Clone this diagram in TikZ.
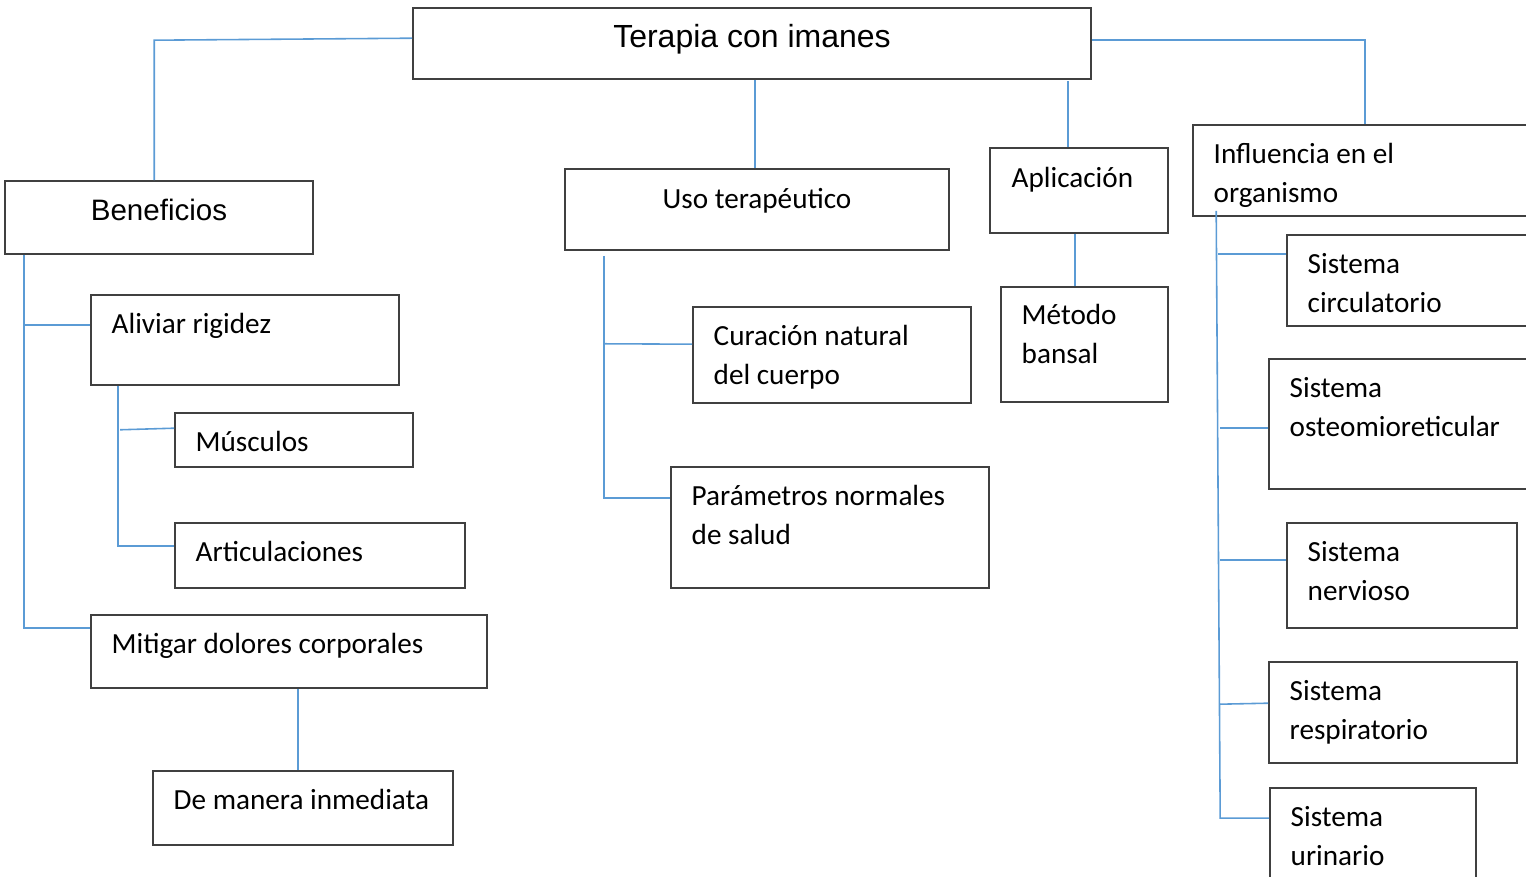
\documentclass[tikz,border=0pt]{standalone}
\usepackage{fontspec}
\setmainfont{Carlito}
\newfontfamily\arialfont{Liberation Sans}
\usetikzlibrary{positioning,fit,calc}
\definecolor{linkColor}{RGB}{91,155,213}
\colorlet{boxColor}{black!75}
\tikzset{
  box/.style={draw=boxColor, line width=0.45pt, inner sep=0pt, rectangle},
  link/.style={draw=linkColor, line width=0.45pt},
  txt/.style={anchor=north west, inner sep=0pt, align=left, yshift=-0.015cm,
    font=\fontsize{8.3}{11.1}\selectfont},
  ttl/.style={inner sep=0pt, font=\arialfont\fontsize{9.1}{11}\selectfont}
}
\begin{document}
\begin{tikzpicture}[x=0.01cm,y=-0.01cm]
  \useasboundingbox (0,0) rectangle (1526,877);
  \clip (0,0) rectangle (1526,877);
  % cajas
  \node[box, fit={(413,8) (1091,79)}] (tera) {};
  \node[box, fit={(5,181) (313,254)}] (benef) {};
  \node[box, fit={(565,169) (949,250)}] (uso) {};
  \node[box, fit={(990,148) (1168,233)}] (apl) {};
  \node[box, fit={(1193,125) (1540,216)}] (infl) {};
  \node[box, fit={(91,295) (399,385)}] (alivia) {};
  \node[box, fit={(175,413) (413,467)}] (musc) {};
  \node[box, fit={(175,523) (465,588)}] (artic) {};
  \node[box, fit={(91,615) (487,688)}] (mitig) {};
  \node[box, fit={(153,771) (453,845)}] (inmed) {};
  \node[box, fit={(693,307) (971,403)}] (cura) {};
  \node[box, fit={(671,467) (989,588)}] (param) {};
  \node[box, fit={(1001,287) (1168,402)}] (metodo) {};
  \node[box, fit={(1287,235) (1540,326)}] (circ) {};
  \node[box, fit={(1269,359) (1540,489)}] (osteo) {};
  \node[box, fit={(1287,523) (1517,628)}] (nerv) {};
  \node[box, fit={(1269,662) (1517,763)}] (resp) {};
  \node[box, fit={(1270,788) (1476,890)}] (urin) {};

  % textos
  \node[ttl] (tera-t) at (752,39) {Terapia con imanes};
  \node[ttl, font=\arialfont\fontsize{8.4}{11}\selectfont] (benef-t) at (159,210) {Beneficios};
  \node[txt] (uso-t) at (662,179) {\strut Uso terapéutico};
  \node[txt] (apl-t) at (1011,158) {\strut Aplicación};
  \node[txt] (infl-t) at (1213,134) {\strut Influencia en el\\organismo};
  \node[txt] (alivia-t) at (111,304) {\strut Aliviar rigidez};
  \node[txt] (musc-t) at (195,422) {\strut Músculos};
  \node[txt] (artic-t) at (195,532) {\strut Articulaciones};
  \node[txt] (mitig-t) at (111,624) {\strut Mitigar dolores corporales};
  \node[txt] (inmed-t) at (173,780) {\strut De manera inmediata};
  \node[txt] (cura-t) at (713,316) {\strut Curación natural\\del cuerpo};
  \node[txt] (param-t) at (691,476) {\strut Parámetros normales\\de salud};
  \node[txt] (metodo-t) at (1021,295) {\strut Método\\bansal};
  \node[txt] (circ-t) at (1307,244) {\strut Sistema\\circulatorio};
  \node[txt] (osteo-t) at (1289,368) {\strut Sistema\\osteomioreticular};
  \node[txt] (nerv-t) at (1307,532) {\strut Sistema\\nervioso};
  \node[txt] (resp-t) at (1289,671) {\strut Sistema\\respiratorio};
  \node[txt] (urin-t) at (1290,797) {\strut Sistema\\urinario};

  % conectores desde el titulo
  \draw[link] ($(tera.north west)+(0,31)$) -- ($(benef.north west)+(150,-140)$) -- ($(benef.north west)+(150,0)$);
  \draw[link] ($(tera.south)+(3,0)$) -- ($(uso.north)+(-2,0)$);
  \draw[link] ($(apl.north west)+(79,0)$) -- ++(0,-66);
  \draw[link] ($(tera.north east)+(0,33)$) -| ($(infl.north west)+(173,0)$);

  % Beneficios
  \draw[link] ($(benef.south west)+(20,0)$) |- ($(alivia.north west)+(0,31)$);
  \draw[link] ($(benef.south west)+(20,0)$) |- ($(mitig.north west)+(0,14)$);
  \draw[link] ($(alivia.south west)+(28,0)$) |- ($(artic.north west)+(0,24)$);
  \draw[link] ($(alivia.south west)+(30,44)$) -- ($(musc.north west)+(0,16)$);
  \draw[link] ($(mitig.south west)+(208,0)$) -- ($(inmed.north west)+(146,0)$);

  % Uso terapeutico y Aplicacion
  \draw[link] ($(uso.south west)+(40,5)$) |- ($(param.north west)+(0,32)$);
  \draw[link] ($(uso.south west)+(40,93)$) -- ($(cura.north west)+(0,38)$);
  \draw[link] ($(apl.south west)+(86,0)$) -- ($(metodo.north west)+(75,0)$);

  % Influencia en el organismo
  \draw[link] ($(infl.south west)+(24,-6)$) -- ($(urin.north west)+(-49,31)$) -- ($(urin.north west)+(0,31)$);
  \draw[link] ($(circ.north west)+(-68,20)$) -- ($(circ.north west)+(0,20)$);
  \draw[link] ($(osteo.north west)+(-48,70)$) -- ($(osteo.north west)+(0,70)$);
  \draw[link] ($(nerv.north west)+(-66,38)$) -- ($(nerv.north west)+(0,38)$);
  \draw[link] ($(resp.north west)+(-48,43)$) -- ($(resp.north west)+(0,42)$);
\end{tikzpicture}
\end{document}
